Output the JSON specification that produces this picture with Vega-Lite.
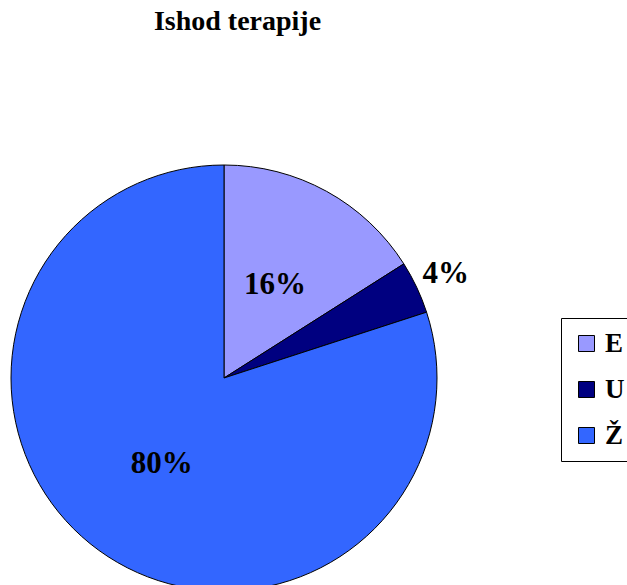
{
  "$schema": "https://vega.github.io/schema/vega-lite/v6.json",
  "width": 627,
  "height": 585,
  "autosize": "none",
  "padding": 0,
  "background": "white",
  "title": {
    "text": "Ishod terapije",
    "font": "Liberation Serif",
    "fontSize": 28,
    "fontWeight": "bold",
    "color": "black",
    "anchor": "middle",
    "dx": -76,
    "dy": 68,
    "baseline": "bottom"
  },
  "data": {
    "values": [
      {"cat": "E", "value": 16, "label": "16%"},
      {"cat": "U", "value": 4, "label": "4%"},
      {"cat": "Ž", "value": 80, "label": "80%"}
    ]
  },
  "encoding": {
    "theta": {"field": "value", "type": "quantitative", "stack": true},
    "order": {"field": "cat", "sort": "ascending"}
  },
  "layer": [
    {
      "mark": {"type": "arc", "x": 224, "y": 378, "outerRadius": 213, "stroke": "black", "strokeWidth": 1},
      "encoding": {
        "color": {
          "field": "cat",
          "type": "nominal",
          "scale": {"domain": ["E", "U", "Ž"], "range": ["#9999FF", "#000080", "#3366FF"]},
          "legend": {
            "title": null,
            "orient": "none",
            "legendX": 561,
            "legendY": 318,
            "strokeColor": "black",
            "padding": 12,
            "symbolType": "square",
            "symbolSize": 256,
            "symbolStrokeColor": "black",
            "symbolStrokeWidth": 1,
            "symbolOpacity": 1,
            "labelFont": "Liberation Serif",
            "labelFontSize": 27,
            "labelFontWeight": "bold",
            "labelColor": "black",
            "rowPadding": 18,
            "labelOffset": 5
          }
        }
      }
    },
    {
      "mark": {"type": "text", "x": 224, "y": 378, "radius": 106, "font": "Liberation Serif", "fontSize": 31, "fontWeight": "bold", "color": "black", "align": "center", "baseline": "middle"},
      "encoding": {
        "text": {"condition": {"test": "datum.cat != 'U'", "field": "label"}, "value": ""}
      }
    },
    {
      "mark": {"type": "text", "x": 224, "y": 378, "radius": 245, "font": "Liberation Serif", "fontSize": 31, "fontWeight": "bold", "color": "black", "align": "center", "baseline": "middle"},
      "encoding": {
        "text": {"condition": {"test": "datum.cat == 'U'", "field": "label"}, "value": ""}
      }
    }
  ]
}
